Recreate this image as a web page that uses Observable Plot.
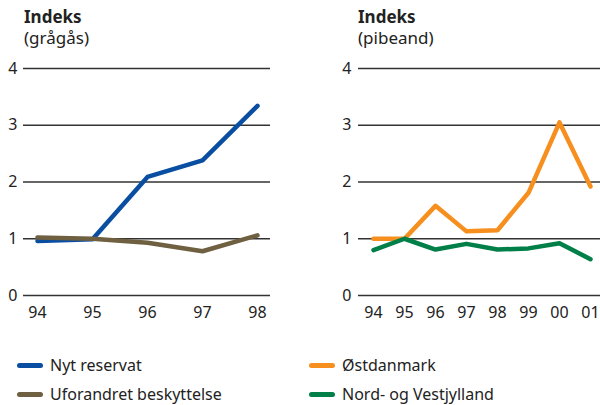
<!DOCTYPE html>
<html><head><meta charset="utf-8">
<script src="https://cdn.jsdelivr.net/npm/d3@7"></script>
<script src="https://cdn.jsdelivr.net/npm/@observablehq/plot@0.6"></script>
<style>
body{margin:0;background:#fff;font-family:"Noto Sans",sans-serif;color:#222;}
#wrap{position:relative;width:600px;height:405px;overflow:hidden;}
.ttl{position:absolute;font-size:17px;line-height:21px;}
.ttl b{font-weight:700;}
.panel{position:absolute;top:0;}
.leg{position:absolute;font-size:16px;display:flex;align-items:center;white-space:nowrap;}
.leg span.sw{display:inline-block;width:26px;height:5px;border-radius:3px;margin-right:7px;}
</style></head>
<body><div id="wrap"></div>
<script>
const yearsL = ["94","95","96","97","98"];
const nytReservat = [0.96, 0.99, 2.09, 2.38, 3.34];
const uforandret = [1.02, 1.00, 0.93, 0.78, 1.06];
const yearsR = ["94","95","96","97","98","99","00","01"];
const ostdanmark = [1.00, 1.00, 1.58, 1.13, 1.15, 1.81, 3.05, 1.92];
const nordVest = [0.80, 1.00, 0.81, 0.91, 0.81, 0.83, 0.92, 0.64];
const yTicks = [0,1,2,3,4];
const titlesL = ["Indeks","(grågås)"];
const titlesR = ["Indeks","(pibeand)"];
const seriesL = [{name:"Nyt reservat", values:nytReservat, color:"#0a4ea2"},
                 {name:"Uforandret beskyttelse", values:uforandret, color:"#6e6040"}];
const seriesR = [{name:"Østdanmark", values:ostdanmark, color:"#f68f1e"},
                 {name:"Nord- og Vestjylland", values:nordVest, color:"#007f48"}];

function panel(years, series, opts){
  const rows = series.flatMap(s => s.values.map((v,i)=>({year:years[i], value:v, name:s.name})));
  return Plot.plot({
    width:300, height:330,
    marginTop:68, marginBottom:35, marginLeft:opts.ml, marginRight:opts.mr,
    style:{fontFamily:"Noto Sans, sans-serif", fontSize:"16px", color:"#222", background:"transparent"},
    x:{type:"point", domain:years, range:opts.xr, padding:0, label:null},
    y:{domain:[0,4], label:null},
    color:{domain:series.map(s=>s.name), range:series.map(s=>s.color)},
    marks:[
      Plot.ruleY(yTicks, {stroke:"#333", strokeWidth:1.3}),
      Plot.axisY({ticks:yTicks, tickSize:0, tickPadding:opts.tp, tickFormat:d=>String(d), fontSize:16, label:null}),
      Plot.axisX({tickSize:0, tickPadding:11, fontSize:16, label:null}),
      Plot.lineY(rows, {x:"year", y:"value", stroke:"name", z:"name", strokeWidth:4.5, strokeLinecap:"round", strokeLinejoin:"round"})
    ]
  });
}
const wrap = document.getElementById("wrap");
const pL = panel(yearsL, seriesL, {ml:23, mr:30, xr:[37,257], tp:6});
pL.classList.add("panel"); pL.style.left="0px"; wrap.appendChild(pL);
const pR = panel(yearsR, seriesR, {ml:58, mr:0, xr:[71,291], tp:7});
pR.classList.add("panel"); pR.style.left="300px"; wrap.appendChild(pR);

function title(lines, x){
  const d=document.createElement("div"); d.className="ttl"; d.style.left=x+"px"; d.style.top="6px";
  d.innerHTML = "<b>"+lines[0]+"</b><br>"+lines[1]; wrap.appendChild(d);
}
title(titlesL, 24); title(titlesR, 358);

function legend(s, x, y){
  const d=document.createElement("div"); d.className="leg"; d.style.left=x+"px"; d.style.top=y+"px";
  d.innerHTML='<span class="sw" style="background:'+s.color+'"></span>'+s.name; wrap.appendChild(d);
}
legend(seriesL[0], 17, 354); legend(seriesL[1], 17, 383);
legend(seriesR[0], 309, 354); legend(seriesR[1], 309, 383);
</script></body></html>
